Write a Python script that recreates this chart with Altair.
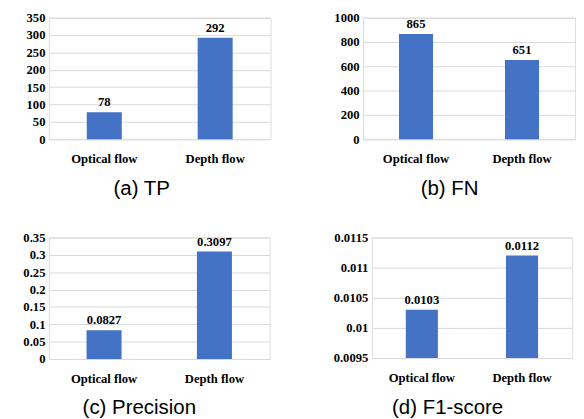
import altair as alt
import pandas as pd

categories = ["Optical flow", "Depth flow"]
tp_values = [78, 292]
tp_labels = ["78", "292"]
fn_values = [865, 651]
fn_labels = ["865", "651"]
precision_values = [0.0827, 0.3097]
precision_labels = ["0.0827", "0.3097"]
f1_values = [0.0103, 0.0112]
f1_labels = ["0.0103", "0.0112"]

tp_ticks = [0, 50, 100, 150, 200, 250, 300, 350]
fn_ticks = [0, 200, 400, 600, 800, 1000]
precision_ticks = [0, 0.05, 0.1, 0.15, 0.2, 0.25, 0.3, 0.35]
f1_ticks = [0.0095, 0.01, 0.0105, 0.011, 0.0115]

SERIF = "Liberation Serif"
SANS = "Liberation Sans"
BAR = "#4472C4"


def panel(values, labels, domain, ticks, width, height, caption, extent, bar_size):
    df = pd.DataFrame({"cat": categories, "val": values, "lab": labels,
                       "base": [domain[0]] * len(values)})
    x = alt.X("cat:N", sort=categories, title=None,
              scale=alt.Scale(paddingInner=0, paddingOuter=0),
              axis=alt.Axis(labelAngle=0, ticks=False, domain=False, labelPadding=14,
                            labelFont=SERIF, labelFontWeight="bold", labelFontSize=13,
                            labelColor="#000"))
    y = alt.Y("val:Q", title=None,
              scale=alt.Scale(domain=domain, zero=False, nice=False),
              axis=alt.Axis(values=ticks, labelExpr="datum.value + ''", labelOverlap=False,
                            labelFlush=False, ticks=False, domain=False,
                            labelPadding=4, labelFont=SERIF, labelFontWeight="bold",
                            labelFontSize=13, labelColor="#000",
                            gridColor="#d9d9d9", gridWidth=1,
                            minExtent=extent, maxExtent=extent))
    base = alt.Chart(df).encode(x=x, y=y)
    bars = base.mark_bar(size=bar_size, color=BAR).encode(y2=alt.Y2("base:Q"))
    text = base.mark_text(dy=-10, font=SERIF, fontWeight="bold", fontSize=13,
                          color="#000").encode(text="lab:N")
    return (bars + text).properties(
        width=width, height=height,
        title=alt.TitleParams(caption, orient="bottom", anchor="middle", frame="bounds",
                              font=SANS, fontSize=21, fontWeight="normal", color="#000", offset=13))


a = panel(tp_values, tp_labels, [0, 350], tp_ticks, 228, 125, "(a) TP", 37, 36)
b = panel(fn_values, fn_labels, [0, 1000], fn_ticks, 218, 125, "(b) FN", 40, 35)
c = panel(precision_values, precision_labels, [0, 0.35], precision_ticks, 227, 125, "(c) Precision", 41, 36)
d = panel(f1_values, f1_labels, [0.0095, 0.0115], f1_ticks, 206, 124, "(d) F1-score", 50, 33)

row1 = alt.hconcat(a, b, spacing=53)
row2 = alt.hconcat(c, d, spacing=53)
chart = alt.vconcat(row1, row2, spacing=32).properties(
    padding={"left": 0, "top": -3, "right": 0, "bottom": 4}
).configure_view(stroke=None).configure(background="white")

chart.save("out.html", embed_options={"renderer": "svg", "actions": False})
